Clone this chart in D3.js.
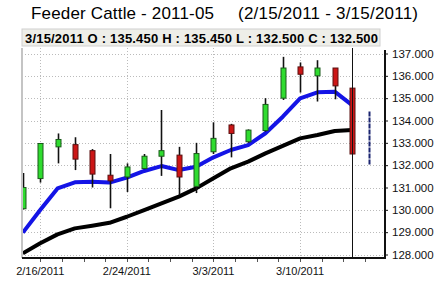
<!DOCTYPE html>
<html>
<head>
<meta charset="utf-8">
<script src="https://cdn.jsdelivr.net/npm/d3@7"></script>
<style>
  body { margin: 0; background: #fff; }
  svg { display: block; font-family: "Liberation Sans", Arial, sans-serif; }
</style>
</head>
<body>
<svg id="chart" width="435" height="282"></svg>
<script>
// daily bars, 2/15/2011 - 3/15/2011
var dates  = ["2/15/2011","2/16/2011","2/17/2011","2/18/2011","2/22/2011","2/23/2011","2/24/2011","2/25/2011",
              "2/28/2011","3/1/2011","3/2/2011","3/3/2011","3/4/2011","3/7/2011","3/8/2011","3/9/2011",
              "3/10/2011","3/11/2011","3/14/2011","3/15/2011"];
var opens  = [130.05,131.40,132.82,132.92,132.65,131.55,131.47,131.85,132.40,132.45,131.05,132.60,133.80,133.05,133.55,135.00,136.40,136.00,136.35,135.45];
var highs  = [131.65,132.98,133.42,133.25,132.72,132.50,132.08,132.50,134.47,132.82,133.00,133.92,133.85,133.60,135.00,136.85,136.60,136.70,136.35,135.45];
var lows   = [130.02,131.22,132.08,131.78,131.00,130.07,130.80,131.82,131.52,130.70,130.75,132.50,132.35,133.00,133.50,134.92,135.25,134.85,134.95,132.50];
var closes = [131.00,132.97,133.15,132.27,131.60,131.30,131.92,132.40,132.65,131.47,132.52,133.20,133.42,133.57,134.72,136.35,136.07,136.35,135.55,132.50];

// moving averages
var maFast = [128.98,129.99,130.96,131.23,131.26,131.22,131.44,131.74,131.96,131.78,131.93,132.35,132.68,132.90,133.43,134.17,134.99,135.26,135.29,134.69];
var maSlow = [128.05,128.50,128.90,129.17,129.29,129.42,129.69,129.99,130.29,130.59,130.96,131.41,131.86,132.16,132.53,132.86,133.20,133.35,133.53,133.58];

// projected range for next session
var nextRange = [132.00, 134.40];

var yTicks = [128,129,130,131,132,133,134,135,136,137];
var dateLabels = ["2/16/2011","2/24/2011","3/3/2011","3/10/2011"];

var plot = { left: 22, right: 385, top: 48, bottom: 258 };

var svg = d3.select("#chart");

var xScale = d3.scaleLinear()
    .domain([-0.05, 20.9])
    .range([plot.left, plot.right]);

var yScale = d3.scaleLinear()
    .domain([128, 137])
    .range([254.5, 53.5]);

// title
svg.append("text")
    .attr("x", 31).attr("y", 19)
    .attr("font-size", 17)
    .attr("textLength", 183)
    .text("Feeder Cattle - 2011-05");
svg.append("text")
    .attr("x", 238).attr("y", 19)
    .attr("font-size", 17)
    .attr("textLength", 180)
    .text("(2/15/2011 - 3/15/2011)");

// info box
var last = dates.length - 1;
svg.append("rect")
    .attr("x", 22).attr("y", 29)
    .attr("width", 358).attr("height", 17)
    .attr("fill", "#eeeee8")
    .attr("stroke", "#d0d0d0");
svg.append("text")
    .attr("x", 25).attr("y", 43)
    .attr("font-size", 13)
    .attr("font-weight", "bold")
    .attr("textLength", 353)
    .text(dates[last] + " O : " + opens[last].toFixed(3) + " H : " + highs[last].toFixed(3) +
          " L : " + lows[last].toFixed(3) + " C : " + closes[last].toFixed(3));

// grid
svg.append("g")
    .selectAll("line")
    .data(yTicks)
    .enter()
    .append("line")
    .attr("x1", plot.left).attr("x2", plot.right)
    .attr("y1", d => Math.round(yScale(d)) + 0.5)
    .attr("y2", d => Math.round(yScale(d)) + 0.5)
    .attr("stroke", "#bbbbbb")
    .attr("stroke-dasharray", "1,2");

var labelIdx = dateLabels.map(d => dates.indexOf(d));

svg.append("g")
    .selectAll("line")
    .data(labelIdx)
    .enter()
    .append("line")
    .attr("x1", d => Math.round(xScale(d)) + 0.5)
    .attr("x2", d => Math.round(xScale(d)) + 0.5)
    .attr("y1", plot.top).attr("y2", plot.bottom)
    .attr("stroke", "#bbbbbb")
    .attr("stroke-dasharray", "1,2");

// left edge
svg.append("line")
    .attr("x1", plot.left).attr("x2", plot.left)
    .attr("y1", plot.top).attr("y2", plot.bottom)
    .attr("stroke", "#c4c4c4")
    .attr("stroke-width", 2);

// clip for marks
svg.append("clipPath").attr("id", "plotclip")
    .append("rect")
    .attr("x", plot.left + 1).attr("y", plot.top)
    .attr("width", plot.right - plot.left - 1).attr("height", plot.bottom - plot.top);

var marks = svg.append("g").attr("clip-path", "url(#plotclip)");

// moving average lines
var maLine = d3.line().x((d, i) => xScale(i)).y(d => yScale(d));
marks.append("path")
    .attr("d", maLine(maSlow))
    .attr("fill", "none")
    .attr("stroke", "#000")
    .attr("stroke-width", 4)
    .attr("stroke-linejoin", "round");

marks.append("path")
    .attr("d", maLine(maFast))
    .attr("fill", "none")
    .attr("stroke", "#1414e6")
    .attr("stroke-width", 4)
    .attr("stroke-linejoin", "round");

// candles
var candles = marks.selectAll("g.candle")
    .data(dates)
    .enter()
    .append("g");

candles.append("line")
    .attr("x1", (d, i) => Math.round(xScale(i)) + 0.5)
    .attr("x2", (d, i) => Math.round(xScale(i)) + 0.5)
    .attr("y1", (d, i) => yScale(highs[i]))
    .attr("y2", (d, i) => yScale(lows[i]))
    .attr("stroke", "#111")
    .attr("stroke-width", 1.6);

candles.append("rect")
    .attr("x", (d, i) => Math.round(xScale(i)) - 2)
    .attr("y", (d, i) => yScale(Math.max(opens[i], closes[i])))
    .attr("width", 5)
    .attr("height", (d, i) => Math.max(2, Math.abs(yScale(opens[i]) - yScale(closes[i]))))
    .attr("fill", (d, i) => closes[i] >= opens[i] ? "#2fdc2f" : "#cc1616")
    .attr("stroke", (d, i) => closes[i] >= opens[i] ? "#1a5a1a" : "#5a1010")
    .attr("stroke-width", 1);

// cursor line at last bar
svg.append("line")
    .attr("x1", Math.round(xScale(last)) + 0.5)
    .attr("x2", Math.round(xScale(last)) + 0.5)
    .attr("y1", plot.top).attr("y2", plot.bottom)
    .attr("stroke", "#111")
    .attr("stroke-width", 1);

// projected range
svg.append("line")
    .attr("x1", Math.round(xScale(last + 1)) + 0.5)
    .attr("x2", Math.round(xScale(last + 1)) + 0.5)
    .attr("y1", yScale(nextRange[1]))
    .attr("y2", yScale(nextRange[0]))
    .attr("stroke", "#1a2470")
    .attr("stroke-width", 2)
    .attr("stroke-dasharray", "5,1");

// right axis
var yAxis = d3.axisRight(yScale)
    .tickValues(yTicks)
    .tickSize(3)
    .tickPadding(4)
    .tickFormat(d3.format(".3f"));

var yg = svg.append("g")
    .attr("transform", `translate(${plot.right},0)`)
    .call(yAxis);
yg.select(".domain").remove();
yg.selectAll("text").attr("font-size", 11.5).attr("fill", "#111").attr("font-family", null);
yg.selectAll("line").attr("stroke", "#111");

svg.append("line")
    .attr("x1", plot.right).attr("x2", plot.right)
    .attr("y1", plot.top + 2).attr("y2", plot.bottom + 1)
    .attr("stroke", "#111")
    .attr("stroke-width", 2);

// bottom axis
var minorTicks = d3.range(labelIdx[0], 20.9, (labelIdx[1] - labelIdx[0]) / 4);

svg.append("g")
    .selectAll("line")
    .data(minorTicks)
    .enter()
    .append("line")
    .attr("x1", d => Math.round(xScale(d)) + 0.5)
    .attr("x2", d => Math.round(xScale(d)) + 0.5)
    .attr("y1", plot.bottom).attr("y2", plot.bottom + 4)
    .attr("stroke", "#555");

svg.append("line")
    .attr("x1", plot.left).attr("x2", plot.right)
    .attr("y1", plot.bottom).attr("y2", plot.bottom)
    .attr("stroke", "#111")
    .attr("stroke-width", 2);

svg.append("g")
    .selectAll("text")
    .data(dateLabels)
    .enter()
    .append("text")
    .attr("x", d => xScale(dates.indexOf(d)))
    .attr("y", 275)
    .attr("font-size", 11)
    .attr("text-anchor", "middle")
    .attr("fill", "#111")
    .text(d => d);
</script>
</body>
</html>
